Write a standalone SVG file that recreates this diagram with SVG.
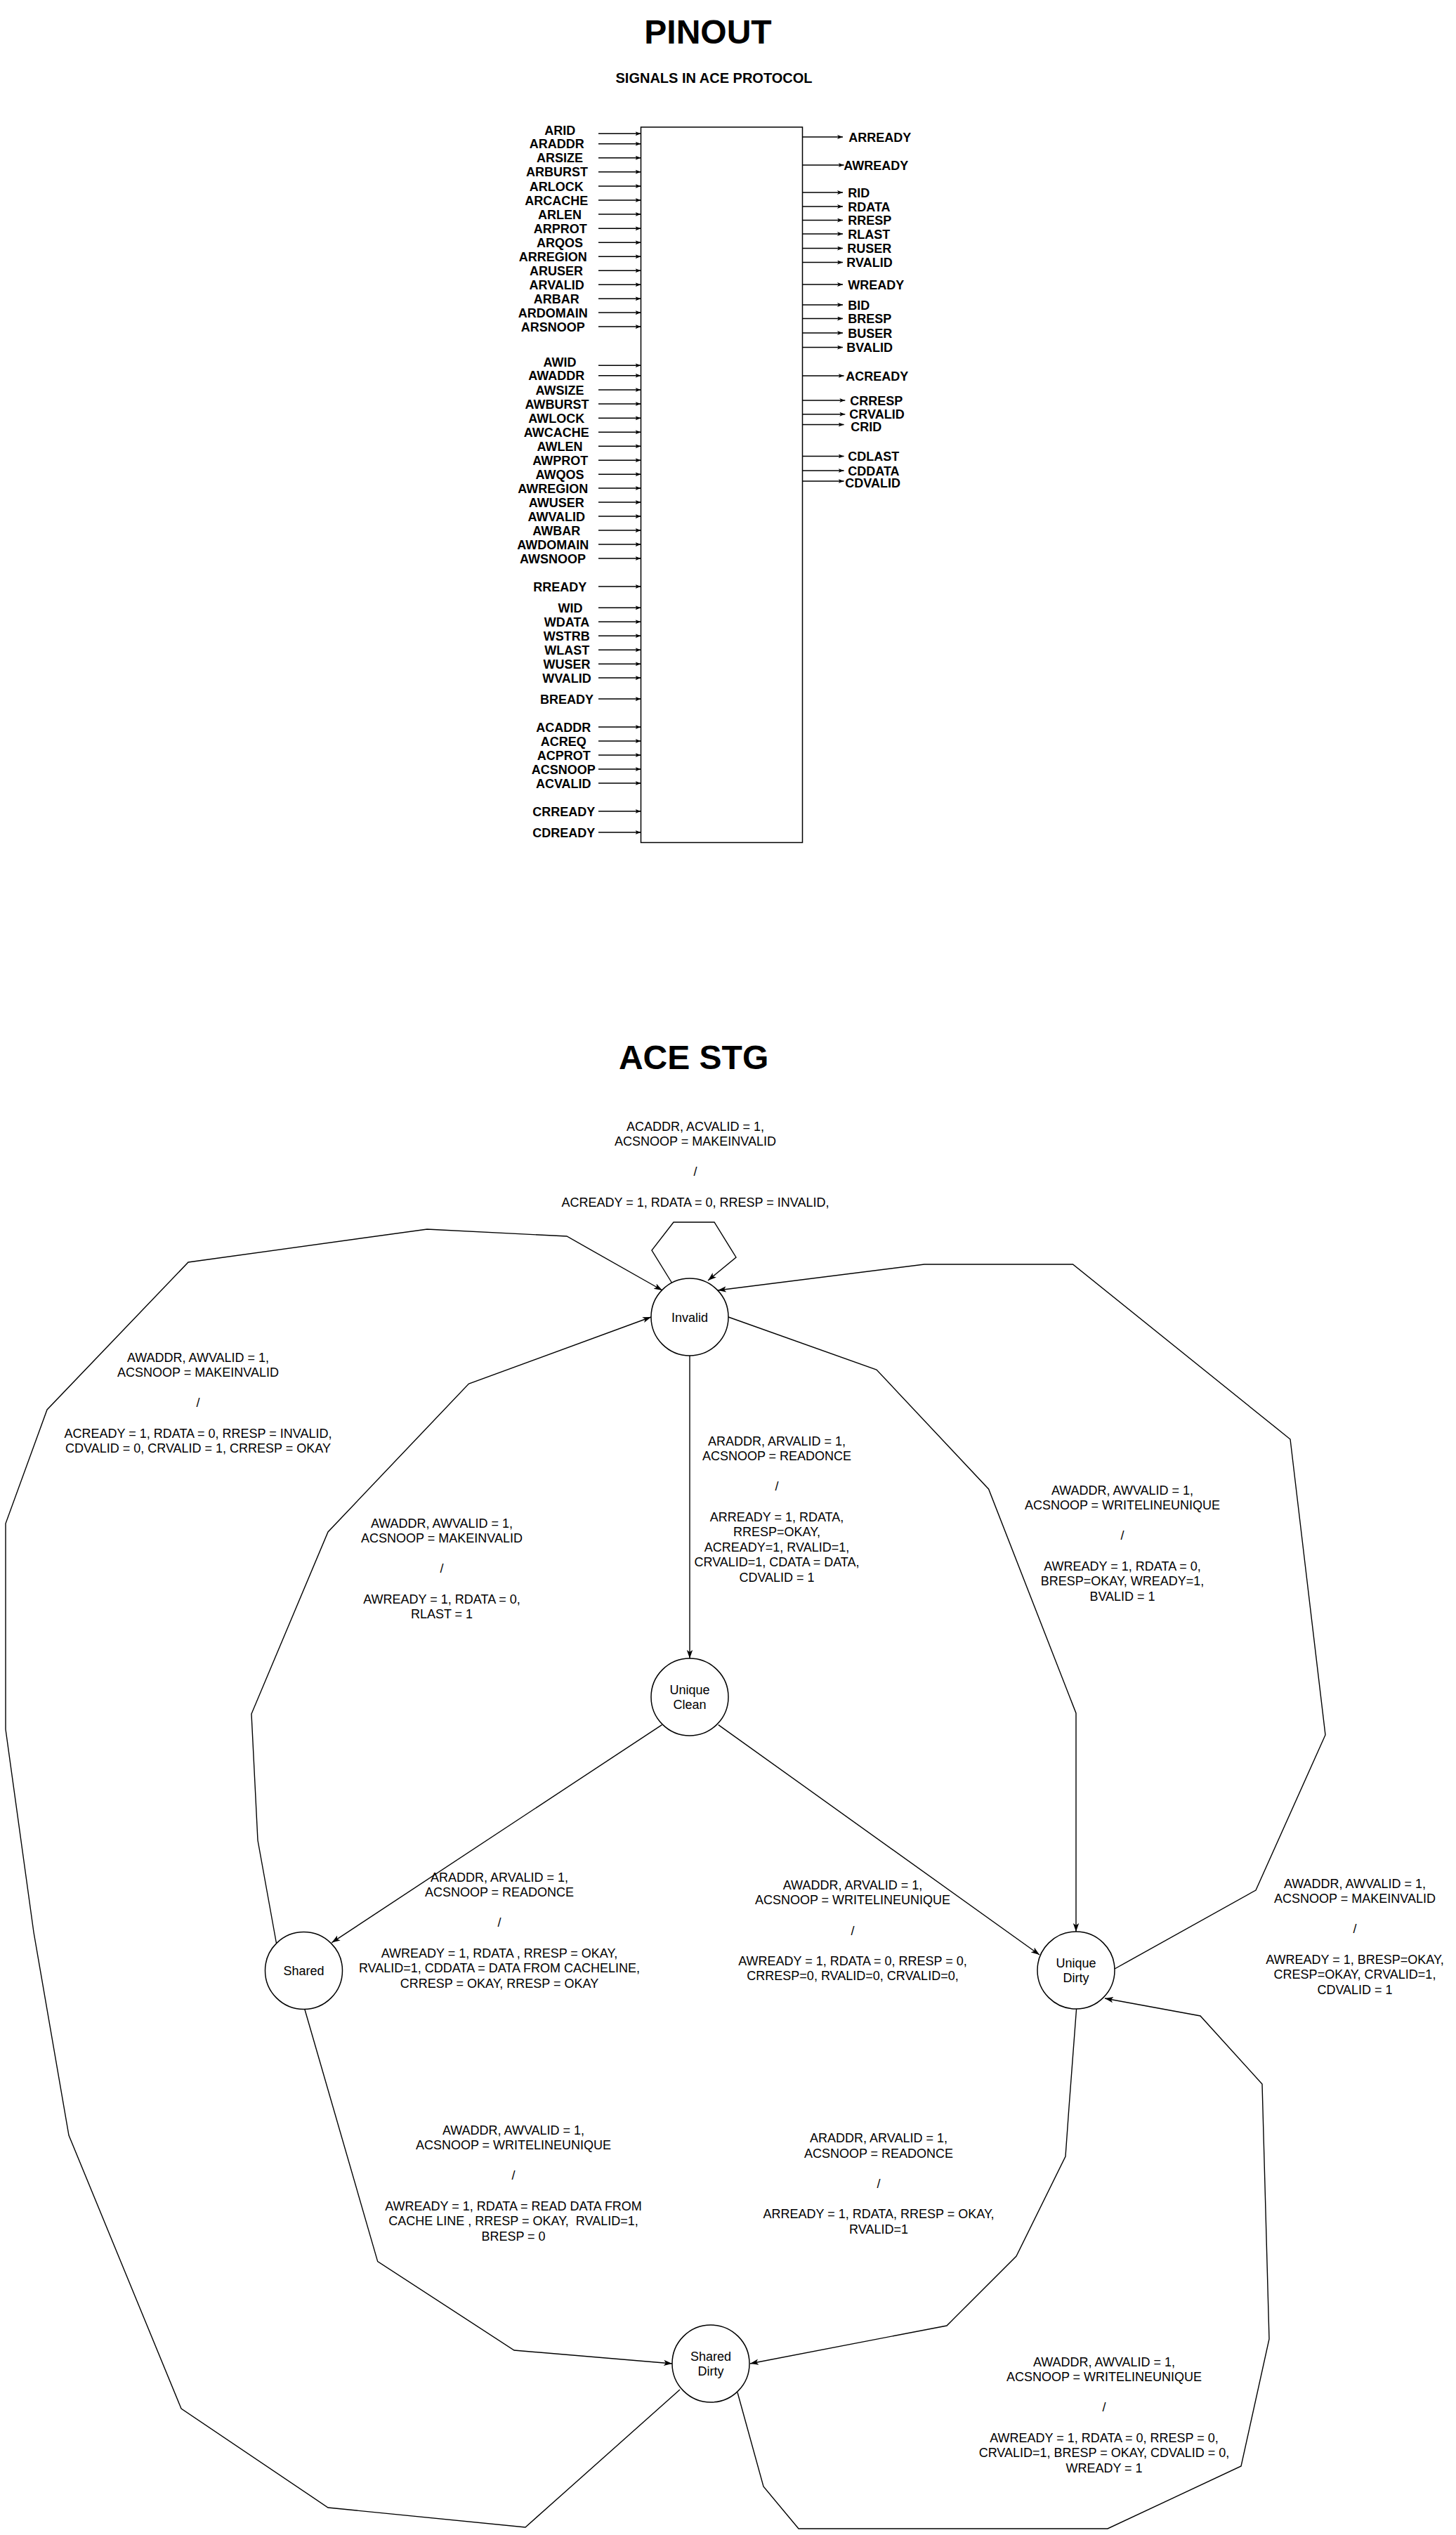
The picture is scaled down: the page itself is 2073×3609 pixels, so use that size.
<svg xmlns="http://www.w3.org/2000/svg" width="2073" height="3609" viewBox="0 0 2073 3609">
<defs>
<style>
.bg{fill:#fff}
.ttl{font-family:"Liberation Sans",Arial,sans-serif;font-weight:bold;fill:#000;text-anchor:middle}
.pl{font-family:"Liberation Sans",Arial,sans-serif;font-weight:bold;font-size:18px;fill:#000;text-anchor:middle}
.pr{font-family:"Liberation Sans",Arial,sans-serif;font-weight:bold;font-size:18px;fill:#000;text-anchor:start}
.t{font-family:"Liberation Sans",Arial,sans-serif;font-size:18px;fill:#000;text-anchor:middle}
.box{fill:#fff;stroke:#000;stroke-width:1.5}
.pa{stroke:#000;stroke-width:1.5;fill:none;marker-end:url(#pin)}
.e{stroke:#000;stroke-width:1.4;fill:none;stroke-linejoin:miter}
.ea{stroke:#000;stroke-width:1.4;fill:none;marker-end:url(#arr)}
.n{fill:#fff;stroke:#000;stroke-width:1.5}
</style>
<marker id="pin" viewBox="0 0 8 6" refX="8" refY="3" markerWidth="8" markerHeight="6" markerUnits="userSpaceOnUse" orient="auto"><path d="M0,0 L8,3 L0,6 L2,3 Z" fill="#000"/></marker>
<marker id="arr" viewBox="0 0 12 10" refX="12" refY="5" markerWidth="12" markerHeight="10" markerUnits="userSpaceOnUse" orient="auto"><path d="M0,0.8 L12,5 L0,9.2 L3,5 Z" fill="#000"/></marker>
</defs>
<rect class="bg" x="0" y="0" width="2073" height="3609"/>

<g id="pinout">
<text class="ttl" x="1008" y="62" font-size="48">PINOUT</text>
<text class="ttl" x="1016.5" y="118" font-size="20">SIGNALS IN ACE PROTOCOL</text>
<rect id="ace-block" class="box" x="912.5" y="181" width="230" height="1018.5"/>
<g id="pin-inputs">
<line class="pa" x1="852" y1="190.3" x2="912.5" y2="190.3"/><text class="pl" x="797.3" y="191.8">ARID</text>
<line class="pa" x1="852" y1="204.8" x2="912.5" y2="204.8"/><text class="pl" x="792.7" y="211.3">ARADDR</text>
<line class="pa" x1="852" y1="224.7" x2="912.5" y2="224.7"/><text class="pl" x="797" y="231.2">ARSIZE</text>
<line class="pa" x1="852" y1="244.7" x2="912.5" y2="244.7"/><text class="pl" x="793" y="251.2">ARBURST</text>
<line class="pa" x1="852" y1="265" x2="912.5" y2="265"/><text class="pl" x="792.3" y="271.5">ARLOCK</text>
<line class="pa" x1="852" y1="285" x2="912.5" y2="285"/><text class="pl" x="792.3" y="291.5">ARCACHE</text>
<line class="pa" x1="852" y1="305" x2="912.5" y2="305"/><text class="pl" x="797" y="311.5">ARLEN</text>
<line class="pa" x1="852" y1="325.3" x2="912.5" y2="325.3"/><text class="pl" x="797.7" y="331.8">ARPROT</text>
<line class="pa" x1="852" y1="345.3" x2="912.5" y2="345.3"/><text class="pl" x="797" y="351.8">ARQOS</text>
<line class="pa" x1="852" y1="365.2" x2="912.5" y2="365.2"/><text class="pl" x="787.3" y="371.7">ARREGION</text>
<line class="pa" x1="852" y1="385.2" x2="912.5" y2="385.2"/><text class="pl" x="792" y="391.7">ARUSER</text>
<line class="pa" x1="852" y1="405.2" x2="912.5" y2="405.2"/><text class="pl" x="792.7" y="411.7">ARVALID</text>
<line class="pa" x1="852" y1="425.2" x2="912.5" y2="425.2"/><text class="pl" x="792.3" y="431.7">ARBAR</text>
<line class="pa" x1="852" y1="445.1" x2="912.5" y2="445.1"/><text class="pl" x="787.3" y="451.6">ARDOMAIN</text>
<line class="pa" x1="852" y1="465.1" x2="912.5" y2="465.1"/><text class="pl" x="787.3" y="471.6">ARSNOOP</text>
<line class="pa" x1="852" y1="520.2" x2="912.5" y2="520.2"/><text class="pl" x="797" y="521.7">AWID</text>
<line class="pa" x1="852" y1="534.7" x2="912.5" y2="534.7"/><text class="pl" x="792.3" y="541.2">AWADDR</text>
<line class="pa" x1="852" y1="555" x2="912.5" y2="555"/><text class="pl" x="797" y="561.5">AWSIZE</text>
<line class="pa" x1="852" y1="575" x2="912.5" y2="575"/><text class="pl" x="793" y="581.5">AWBURST</text>
<line class="pa" x1="852" y1="595.3" x2="912.5" y2="595.3"/><text class="pl" x="792.3" y="601.8">AWLOCK</text>
<line class="pa" x1="852" y1="615.2" x2="912.5" y2="615.2"/><text class="pl" x="792.3" y="621.7">AWCACHE</text>
<line class="pa" x1="852" y1="635.2" x2="912.5" y2="635.2"/><text class="pl" x="797" y="641.7">AWLEN</text>
<line class="pa" x1="852" y1="655.2" x2="912.5" y2="655.2"/><text class="pl" x="797.7" y="661.7">AWPROT</text>
<line class="pa" x1="852" y1="675.2" x2="912.5" y2="675.2"/><text class="pl" x="797" y="681.7">AWQOS</text>
<line class="pa" x1="852" y1="695" x2="912.5" y2="695"/><text class="pl" x="787.3" y="701.5">AWREGION</text>
<line class="pa" x1="852" y1="715.1" x2="912.5" y2="715.1"/><text class="pl" x="792.3" y="721.6">AWUSER</text>
<line class="pa" x1="852" y1="735.1" x2="912.5" y2="735.1"/><text class="pl" x="792.3" y="741.6">AWVALID</text>
<line class="pa" x1="852" y1="755.1" x2="912.5" y2="755.1"/><text class="pl" x="792.3" y="761.6">AWBAR</text>
<line class="pa" x1="852" y1="775.1" x2="912.5" y2="775.1"/><text class="pl" x="787.3" y="781.6">AWDOMAIN</text>
<line class="pa" x1="852" y1="795" x2="912.5" y2="795"/><text class="pl" x="787" y="801.5">AWSNOOP</text>
<line class="pa" x1="852" y1="835" x2="912.5" y2="835"/><text class="pl" x="797.3" y="841.5">RREADY</text>
<line class="pa" x1="852" y1="865.3" x2="912.5" y2="865.3"/><text class="pl" x="812" y="871.8">WID</text>
<line class="pa" x1="852" y1="885.2" x2="912.5" y2="885.2"/><text class="pl" x="807" y="891.7">WDATA</text>
<line class="pa" x1="852" y1="905.2" x2="912.5" y2="905.2"/><text class="pl" x="806.7" y="911.7">WSTRB</text>
<line class="pa" x1="852" y1="925.2" x2="912.5" y2="925.2"/><text class="pl" x="807.3" y="931.7">WLAST</text>
<line class="pa" x1="852" y1="945.2" x2="912.5" y2="945.2"/><text class="pl" x="807" y="951.7">WUSER</text>
<line class="pa" x1="852" y1="965.1" x2="912.5" y2="965.1"/><text class="pl" x="807" y="971.6">WVALID</text>
<line class="pa" x1="852" y1="995.1" x2="912.5" y2="995.1"/><text class="pl" x="807" y="1001.6">BREADY</text>
<line class="pa" x1="852" y1="1035" x2="912.5" y2="1035"/><text class="pl" x="802.3" y="1041.5">ACADDR</text>
<line class="pa" x1="852" y1="1055" x2="912.5" y2="1055"/><text class="pl" x="802.3" y="1061.5">ACREQ</text>
<line class="pa" x1="852" y1="1075" x2="912.5" y2="1075"/><text class="pl" x="802.7" y="1081.5">ACPROT</text>
<line class="pa" x1="852" y1="1095" x2="912.5" y2="1095"/><text class="pl" x="802.3" y="1101.5">ACSNOOP</text>
<line class="pa" x1="852" y1="1115" x2="912.5" y2="1115"/><text class="pl" x="802.3" y="1121.5">ACVALID</text>
<line class="pa" x1="852" y1="1155" x2="912.5" y2="1155"/><text class="pl" x="802.7" y="1161.5">CRREADY</text>
<line class="pa" x1="852" y1="1185" x2="912.5" y2="1185"/><text class="pl" x="802.7" y="1191.5">CDREADY</text>
</g>
<g id="pin-outputs">
<line class="pa" x1="1142.5" y1="195" x2="1200" y2="195"/><text class="pr" x="1208.3" y="201.5">ARREADY</text>
<line class="pa" x1="1142.5" y1="235" x2="1201.6" y2="235"/><text class="pr" x="1201.3" y="241.5">AWREADY</text>
<line class="pa" x1="1142.5" y1="274" x2="1200" y2="274"/><text class="pr" x="1207.3" y="280.5">RID</text>
<line class="pa" x1="1142.5" y1="294" x2="1200" y2="294"/><text class="pr" x="1207.3" y="300.5">RDATA</text>
<line class="pa" x1="1142.5" y1="313.5" x2="1200" y2="313.5"/><text class="pr" x="1207.3" y="320">RRESP</text>
<line class="pa" x1="1142.5" y1="333" x2="1200" y2="333"/><text class="pr" x="1207.3" y="339.5">RLAST</text>
<line class="pa" x1="1142.5" y1="353.5" x2="1200" y2="353.5"/><text class="pr" x="1206.3" y="360">RUSER</text>
<line class="pa" x1="1142.5" y1="373.5" x2="1200" y2="373.5"/><text class="pr" x="1205.3" y="380">RVALID</text>
<line class="pa" x1="1142.5" y1="405" x2="1200" y2="405"/><text class="pr" x="1207.3" y="411.5">WREADY</text>
<line class="pa" x1="1142.5" y1="434" x2="1200" y2="434"/><text class="pr" x="1207.3" y="440.5">BID</text>
<line class="pa" x1="1142.5" y1="453.5" x2="1200" y2="453.5"/><text class="pr" x="1207.3" y="460">BRESP</text>
<line class="pa" x1="1142.5" y1="474" x2="1200" y2="474"/><text class="pr" x="1207.3" y="480.5">BUSER</text>
<line class="pa" x1="1142.5" y1="494.6" x2="1200" y2="494.6"/><text class="pr" x="1205.3" y="501.1">BVALID</text>
<line class="pa" x1="1142.5" y1="535" x2="1201.6" y2="535"/><text class="pr" x="1204.3" y="541.5">ACREADY</text>
<line class="pa" x1="1142.5" y1="570" x2="1203.3" y2="570"/><text class="pr" x="1210.3" y="576.5">CRRESP</text>
<line class="pa" x1="1142.5" y1="589.7" x2="1203.3" y2="589.7"/><text class="pr" x="1209.3" y="596.2">CRVALID</text>
<line class="pa" x1="1142.5" y1="604.5" x2="1201.6" y2="604.5"/><text class="pr" x="1211.3" y="613.5">CRID</text>
<line class="pa" x1="1142.5" y1="649.5" x2="1201.6" y2="649.5"/><text class="pr" x="1207.3" y="656">CDLAST</text>
<line class="pa" x1="1142.5" y1="670" x2="1201.6" y2="670"/><text class="pr" x="1207.3" y="676.5">CDDATA</text>
<line class="pa" x1="1142.5" y1="685" x2="1201.6" y2="685"/><text class="pr" x="1203.3" y="694">CDVALID</text>
</g>
</g>

<text class="ttl" x="987.6" y="1522" font-size="48">ACE STG</text>

<g id="connectors">
<polyline id="e-inv-self" class="ea" points="957,1827 928,1780 959,1740 1017,1740 1048,1790 1008,1823"/>
<polyline id="e-inv-uc" class="ea" points="982,1930 982,2361"/>
<polyline id="e-inv-ud" class="ea" points="1037,1875 1248,1950 1407.6,2120 1532,2439 1532,2750"/>
<polyline id="e-ud-inv" class="ea" points="1587,2803 1788,2691 1887,2470 1837,2049 1527.5,1800 1316,1800 1022,1837"/>
<polyline id="e-uc-sh" class="ea" points="942.4,2455.6 472.4,2765.6"/>
<polyline id="e-uc-ud" class="ea" points="1022.8,2455.6 1480,2783"/>
<polyline id="e-sh-inv" class="ea" points="393.4,2766 367,2620 358,2440 467,2181 667.4,1970 927,1875"/>
<polyline id="e-sh-sd" class="ea" points="433.7,2860 537.7,3219.6 732,3346 957,3365"/>
<polyline id="e-ud-sd" class="ea" points="1532.6,2860 1522,3000 1517,3070 1447,3212 1348,3311 1068,3365"/>
<polyline id="e-sd-ud" class="ea" points="1050,3406 1087,3540 1137,3600 1577,3600 1767,3511 1807,3330 1797,2967 1709,2870 1573,2845"/>
<polyline id="e-sd-inv" class="ea" points="968,3402 748,3598 467,3570 258,3429 98,3040 48,2751 8,2462 8,2169 67,2007 268,1797 608,1750 807,1760 943,1837"/>
</g>

<g id="nodes">
<g id="node-invalid"><circle class="n" cx="982" cy="1875" r="55"/><text class="t" x="982" y="1881.5">Invalid</text></g>
<g id="node-unique-clean"><circle class="n" cx="982" cy="2416" r="55"/><text class="t" x="982" y="2411.5">Unique</text><text class="t" x="982" y="2433">Clean</text></g>
<g id="node-shared"><circle class="n" cx="432.5" cy="2805.5" r="55"/><text class="t" x="432.5" y="2812">Shared</text></g>
<g id="node-unique-dirty"><circle class="n" cx="1532" cy="2805" r="55"/><text class="t" x="1532" y="2800.5">Unique</text><text class="t" x="1532" y="2822">Dirty</text></g>
<g id="node-shared-dirty"><circle class="n" cx="1012" cy="3365" r="55"/><text class="t" x="1012" y="3360.5">Shared</text><text class="t" x="1012" y="3382">Dirty</text></g>
</g>

<g id="edge-labels">
<g id="lbl-inv-self">
<text class="t" x="990" y="1609.5">ACADDR, ACVALID = 1,</text>
<text class="t" x="990" y="1631.1">ACSNOOP = MAKEINVALID</text>
<text class="t" x="990" y="1674.3">/</text>
<text class="t" x="990" y="1717.5">ACREADY = 1, RDATA = 0, RRESP = INVALID,</text>
</g>
<g id="lbl-sd-inv">
<text class="t" x="282" y="1938.5">AWADDR, AWVALID = 1,</text>
<text class="t" x="282" y="1960.1">ACSNOOP = MAKEINVALID</text>
<text class="t" x="282" y="2003.3">/</text>
<text class="t" x="282" y="2046.5">ACREADY = 1, RDATA = 0, RRESP = INVALID,</text>
<text class="t" x="282" y="2068.1">CDVALID = 0, CRVALID = 1, CRRESP = OKAY</text>
</g>
<g id="lbl-sh-inv">
<text class="t" x="629" y="2174.5">AWADDR, AWVALID = 1,</text>
<text class="t" x="629" y="2196.1">ACSNOOP = MAKEINVALID</text>
<text class="t" x="629" y="2239.3">/</text>
<text class="t" x="629" y="2282.5">AWREADY = 1, RDATA = 0,</text>
<text class="t" x="629" y="2304.1">RLAST = 1</text>
</g>
<g id="lbl-inv-uc">
<text class="t" x="1106" y="2057.5">ARADDR, ARVALID = 1,</text>
<text class="t" x="1106" y="2079.1">ACSNOOP = READONCE</text>
<text class="t" x="1106" y="2122.3">/</text>
<text class="t" x="1106" y="2165.5">ARREADY = 1, RDATA,</text>
<text class="t" x="1106" y="2187.1">RRESP=OKAY,</text>
<text class="t" x="1106" y="2208.7">ACREADY=1, RVALID=1,</text>
<text class="t" x="1106" y="2230.3">CRVALID=1, CDATA = DATA,</text>
<text class="t" x="1106" y="2251.9">CDVALID = 1</text>
</g>
<g id="lbl-inv-ud">
<text class="t" x="1598" y="2127.5">AWADDR, AWVALID = 1,</text>
<text class="t" x="1598" y="2149.1">ACSNOOP = WRITELINEUNIQUE</text>
<text class="t" x="1598" y="2192.3">/</text>
<text class="t" x="1598" y="2235.5">AWREADY = 1, RDATA = 0,</text>
<text class="t" x="1598" y="2257.1">BRESP=OKAY, WREADY=1,</text>
<text class="t" x="1598" y="2278.7">BVALID = 1</text>
</g>
<g id="lbl-ud-inv">
<text class="t" x="1929" y="2687.5">AWADDR, AWVALID = 1,</text>
<text class="t" x="1929" y="2709.1">ACSNOOP = MAKEINVALID</text>
<text class="t" x="1929" y="2752.3">/</text>
<text class="t" x="1929" y="2795.5">AWREADY = 1, BRESP=OKAY,</text>
<text class="t" x="1929" y="2817.1">CRESP=OKAY, CRVALID=1,</text>
<text class="t" x="1929" y="2838.7">CDVALID = 1</text>
</g>
<g id="lbl-uc-sh">
<text class="t" x="711" y="2678.5">ARADDR, ARVALID = 1,</text>
<text class="t" x="711" y="2700.1">ACSNOOP = READONCE</text>
<text class="t" x="711" y="2743.3">/</text>
<text class="t" x="711" y="2786.5">AWREADY = 1, RDATA , RRESP = OKAY,</text>
<text class="t" x="711" y="2808.1">RVALID=1, CDDATA = DATA FROM CACHELINE,</text>
<text class="t" x="711" y="2829.7">CRRESP = OKAY, RRESP = OKAY</text>
</g>
<g id="lbl-uc-ud">
<text class="t" x="1214" y="2689.8">AWADDR, ARVALID = 1,</text>
<text class="t" x="1214" y="2711.4">ACSNOOP = WRITELINEUNIQUE</text>
<text class="t" x="1214" y="2754.6">/</text>
<text class="t" x="1214" y="2797.8">AWREADY = 1, RDATA = 0, RRESP = 0,</text>
<text class="t" x="1214" y="2819.4">CRRESP=0, RVALID=0, CRVALID=0,</text>
</g>
<g id="lbl-sh-sd">
<text class="t" x="731" y="3038.5">AWADDR, AWVALID = 1,</text>
<text class="t" x="731" y="3060.1">ACSNOOP = WRITELINEUNIQUE</text>
<text class="t" x="731" y="3103.3">/</text>
<text class="t" x="731" y="3146.5">AWREADY = 1, RDATA = READ DATA FROM</text>
<text class="t" x="731" y="3168.1" xml:space="preserve">CACHE LINE , RRESP = OKAY,  RVALID=1,</text>
<text class="t" x="731" y="3189.7">BRESP = 0</text>
</g>
<g id="lbl-ud-sd">
<text class="t" x="1251" y="3050">ARADDR, ARVALID = 1,</text>
<text class="t" x="1251" y="3071.6">ACSNOOP = READONCE</text>
<text class="t" x="1251" y="3114.8">/</text>
<text class="t" x="1251" y="3158">ARREADY = 1, RDATA, RRESP = OKAY,</text>
<text class="t" x="1251" y="3179.6">RVALID=1</text>
</g>
<g id="lbl-sd-ud">
<text class="t" x="1572" y="3368.5">AWADDR, AWVALID = 1,</text>
<text class="t" x="1572" y="3390.1">ACSNOOP = WRITELINEUNIQUE</text>
<text class="t" x="1572" y="3433.3">/</text>
<text class="t" x="1572" y="3476.5">AWREADY = 1, RDATA = 0, RRESP = 0,</text>
<text class="t" x="1572" y="3498.1">CRVALID=1, BRESP = OKAY, CDVALID = 0,</text>
<text class="t" x="1572" y="3519.7">WREADY = 1</text>
</g>
</g>
</svg>
